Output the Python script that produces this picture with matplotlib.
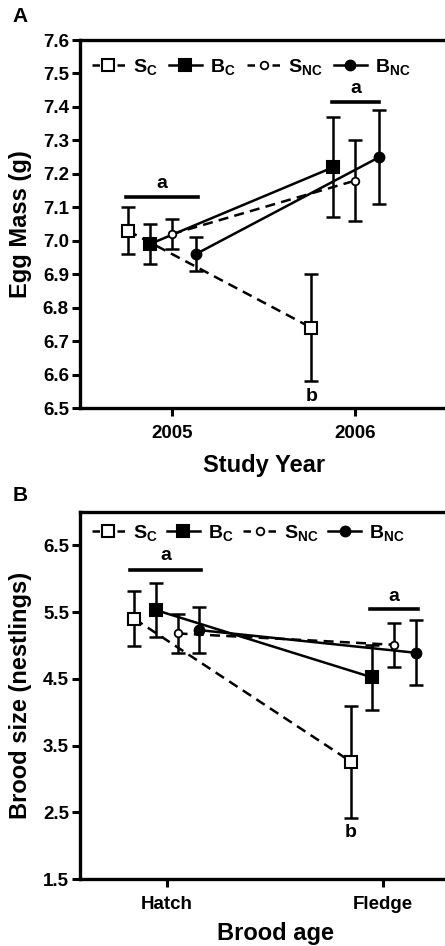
import matplotlib
matplotlib.use("Agg")
import matplotlib.pyplot as plt
from matplotlib.lines import Line2D
import numpy as np

plt.rcParams['font.family'] = ['Liberation Sans', 'DejaVu Sans']
plt.rcParams['font.weight'] = 'bold'
plt.rcParams['mathtext.fontset'] = 'custom'
plt.rcParams['mathtext.bf'] = 'Liberation Sans:bold'
plt.rcParams['mathtext.rm'] = 'Liberation Sans:bold'

# ---- data: panel A (egg mass) ----
years = [2005, 2006]
egg_sc = [7.03, 6.74]
egg_sc_err = [0.07, 0.16]
egg_bc = [6.99, 7.22]
egg_bc_err = [0.06, 0.15]
egg_snc = [7.02, 7.18]
egg_snc_err = [0.045, 0.12]
egg_bnc = [6.96, 7.25]
egg_bnc_err = [0.05, 0.14]

# ---- data: panel B (brood size) ----
ages = ['Hatch', 'Fledge']
brood_sc = [5.40, 3.26]
brood_sc_err = [0.41, 0.84]
brood_bc = [5.53, 4.52]
brood_bc_err = [0.41, 0.49]
brood_snc = [5.18, 5.01]
brood_snc_err = [0.29, 0.33]
brood_bnc = [5.23, 4.89]
brood_bnc_err = [0.35, 0.49]

labels = [r'$\mathbf{S_{C}}$', r'$\mathbf{B_{C}}$', r'$\mathbf{S_{NC}}$', r'$\mathbf{B_{NC}}$']
styles = [
    dict(ls='--', marker='s', mfc='white', ms=9, mew=1.5),
    dict(ls='-', marker='s', mfc='black', ms=9, mew=1.5),
    dict(ls='--', marker='o', mfc='white', ms=5.5, mew=1.3),
    dict(ls='-', marker='o', mfc='black', ms=7, mew=1.5),
]


def draw(ax, xs, series, errs, offsets):
    for y, e, off, st in zip(series, errs, offsets, styles):
        ax.errorbar(np.array(xs) + off, y, yerr=e, fmt='none', ecolor='black',
                    elinewidth=1.8, capsize=5, capthick=1.8, zorder=2)
        line, = ax.plot(np.array(xs) + off, y, color='black', lw=1.8,
                        linestyle=st['ls'], marker=st['marker'], mfc=st['mfc'],
                        mec='black', ms=st['ms'], mew=st['mew'], zorder=3)
        if st['ls'] == '--':
            line.set_dashes((4, 2.5))


def legend_handles():
    hs = []
    for st in styles:
        h = Line2D([], [], color='black', lw=1.8, linestyle=st['ls'],
                   marker=st['marker'], mfc=st['mfc'], mec='black',
                   ms=st['ms'], mew=st['mew'])
        if st['ls'] == '--':
            h.set_dashes((3, 2))
        hs.append(h)
    return hs


def style_ax(ax):
    for s in ['left', 'bottom', 'top']:
        ax.spines[s].set_linewidth(2.4)
    ax.spines['right'].set_visible(False)
    ax.tick_params(axis='y', width=2.2, length=6, labelsize=13.5, pad=2)
    ax.tick_params(axis='x', width=2.2, length=6, labelsize=13.5, pad=6)


fig = plt.figure(figsize=(4.45, 9.46), dpi=100)

# ---------------- Panel A ----------------
axA = fig.add_axes([0.18, 0.5687, 0.825, 0.389])
draw(axA, years, [egg_sc, egg_bc, egg_snc, egg_bnc],
     [egg_sc_err, egg_bc_err, egg_snc_err, egg_bnc_err],
     [-0.24, -0.12, 0.0, 0.13])
axA.set_xlim(2004.5, 2006.5)
axA.set_ylim(6.5, 7.6)
axA.set_xticks(years)
axA.set_xticklabels([str(y) for y in years])
yt = np.round(np.arange(6.5, 7.61, 0.1), 1)
axA.set_yticks(yt)
axA.set_yticklabels(['%.1f' % v for v in yt])
axA.set_ylabel('Egg Mass (g)', fontsize=17, fontweight='bold', labelpad=8)
axA.set_xlabel('Study Year', fontsize=17, fontweight='bold', labelpad=9)
style_ax(axA)
# significance letters
axA.plot([2004.75, 2005.14], [7.13, 7.13], color='black', lw=2.6)
axA.text(2004.945, 7.17, 'a', ha='center', va='center', fontsize=14, fontweight='bold')
axA.plot([2005.87, 2006.13], [7.415, 7.415], color='black', lw=2.6)
axA.text(2006.0, 7.455, 'a', ha='center', va='center', fontsize=14, fontweight='bold')
axA.text(2005.76, 6.535, 'b', ha='center', va='center', fontsize=14, fontweight='bold')
axA.legend(legend_handles(), labels, loc='center left', bbox_to_anchor=(0.0, 0.927),
           ncol=4, frameon=False, fontsize=14, handlelength=1.7, handletextpad=0.4,
           columnspacing=0.6, borderaxespad=0.2)
fig.text(0.028, 0.983, 'A', fontsize=15, fontweight='bold', va='center')

# ---------------- Panel B ----------------
axB = fig.add_axes([0.18, 0.0708, 0.876, 0.388])
xb = np.arange(len(ages))
draw(axB, xb, [brood_sc, brood_bc, brood_snc, brood_bnc],
     [brood_sc_err, brood_bc_err, brood_snc_err, brood_bnc_err],
     [-0.15, -0.05, 0.05, 0.15])
axB.set_xlim(-0.4, 1.4)
axB.set_ylim(1.5, 7.0)
axB.set_xticks(xb)
axB.set_xticklabels(ages)
axB.set_yticks([1.5, 2.5, 3.5, 4.5, 5.5, 6.5])
axB.set_ylabel('Brood size (nestlings)', fontsize=17, fontweight='bold', labelpad=8)
axB.set_xlabel('Brood age', fontsize=17, fontweight='bold', labelpad=7)
style_ax(axB)
axB.plot([-0.17, 0.16], [6.13, 6.13], color='black', lw=2.6)
axB.text(-0.005, 6.35, 'a', ha='center', va='center', fontsize=14, fontweight='bold')
axB.plot([0.94, 1.16], [5.54, 5.54], color='black', lw=2.6)
axB.text(1.05, 5.74, 'a', ha='center', va='center', fontsize=14, fontweight='bold')
axB.text(0.85, 2.2, 'b', ha='center', va='center', fontsize=14, fontweight='bold')
axB.legend(legend_handles(), labels, loc='center left', bbox_to_anchor=(0.0, 0.943),
           ncol=4, frameon=False, fontsize=14, handlelength=1.7, handletextpad=0.4,
           columnspacing=0.5, borderaxespad=0.2)
fig.text(0.028, 0.476, 'B', fontsize=15, fontweight='bold', va='center')

fig.savefig('out.png', dpi=100)
